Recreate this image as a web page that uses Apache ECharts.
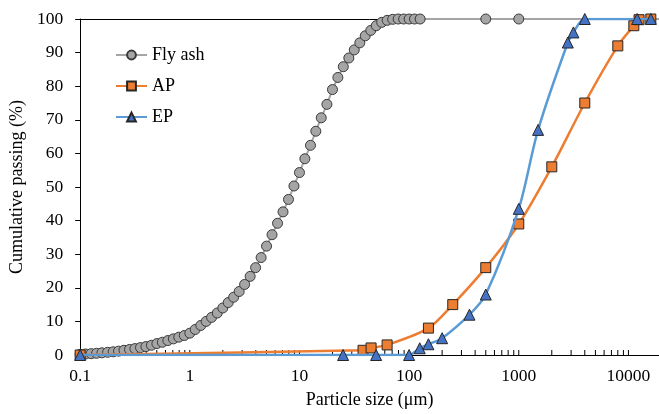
<!DOCTYPE html>
<html>
<head>
<meta charset="utf-8">
<script src="https://cdn.jsdelivr.net/npm/echarts@6/dist/echarts.min.js"></script>
<style>
  html, body { margin: 0; padding: 0; background: #fff; }
  #chart { width: 659px; height: 414px; }
</style>
</head>
<body>
<div id="chart"></div>
<script>
// Particle size distribution: fly ash (laser diffraction) and two sieved aggregates.
const FONT = '"Liberation Serif", "Times New Roman", serif';

const flyAshSize = [
  0.1, 0.112, 0.126, 0.141, 0.158, 0.178, 0.2, 0.224, 0.251, 0.282,
  0.316, 0.355, 0.398, 0.447, 0.501, 0.562, 0.631, 0.708, 0.794, 0.891,
  1, 1.12, 1.26, 1.41, 1.58, 1.78, 2, 2.24, 2.51, 2.82,
  3.16, 3.55, 3.98, 4.47, 5.01, 5.62, 6.31, 7.08, 7.94, 8.91,
  10, 11.2, 12.6, 14.1, 15.8, 17.8, 20, 22.4, 25.1, 28.2,
  31.6, 35.5, 39.8, 44.7, 50.1, 56.2, 63.1, 70.8, 79.4, 89.1,
  100, 112, 126, 500, 1000, 20000
];
const flyAshPassing = [
  0.2, 0.3, 0.4, 0.5, 0.65, 0.8, 0.95, 1.15, 1.4, 1.65,
  1.9, 2.2, 2.5, 2.9, 3.4, 3.8, 4.3, 4.8, 5.3, 5.8,
  6.5, 7.6, 8.8, 10.0, 11.2, 12.5, 14.0, 15.6, 17.2, 18.9,
  21.0, 23.4, 26.0, 29.0, 32.4, 35.8, 39.2, 42.6, 46.3, 50.3,
  54.3, 58.4, 62.4, 66.6, 70.6, 74.6, 79.0, 82.6, 85.8, 88.4,
  90.8, 92.9, 95.0, 96.6, 98.0, 99.0, 99.6, 99.9, 100, 100,
  100, 100, 100, 100, 100, 100
];

const apSize = [0.1, 38, 45, 63, 150, 250, 500, 1000, 2000, 4000, 8000, 11200, 12500, 16000];
const apPassing = [0, 1.4, 2.1, 3.0, 8.0, 15.0, 26.0, 39.0, 56.0, 75.0, 92.0, 98.0, 99.8, 100];

const epSize = [0.1, 25, 50, 100, 125, 150, 200, 355, 500, 1000, 1500, 2800, 3150, 4000, 12000, 16000];
const epPassing = [0, 0, 0, 0, 2.0, 3.2, 5.0, 12.0, 18.0, 43.5, 67.0, 93.0, 96.0, 100, 100, 100];

const xTickLabels = ['0.1', '1', '10', '100', '1000', '10000'];
const yTickLabels = ['0', '10', '20', '30', '40', '50', '60', '70', '80', '90', '100'];

// Inside tick marks at 2..10 times each decade of the log axis
const logTicks = [];
for (let e = -1; e <= 3; e++) {
  for (let k = 2; k <= 10; k++) logTicks.push(+(k * Math.pow(10, e)).toPrecision(3));
}

const pairs = (xs, ys) => xs.map((x, i) => [x, ys[i]]);
const flyAshData = pairs(flyAshSize, flyAshPassing);
flyAshData[flyAshData.length - 1] = { value: flyAshData[flyAshData.length - 1], symbol: 'none' };

const chart = echarts.init(document.getElementById('chart'), null, { renderer: 'canvas' });

const axisText = { color: '#000', fontFamily: FONT, fontSize: 17.5 };

chart.setOption({
  backgroundColor: '#fff',
  animation: false,
  grid: { left: 72, right: 0, top: 19, bottom: 57 },
  legend: {
    data: ['Fly ash', 'AP', 'EP'],
    orient: 'vertical',
    left: 110,
    top: 41,
    itemWidth: 31,
    itemHeight: 11,
    itemGap: 13,
    textStyle: { color: '#000', fontFamily: FONT, fontSize: 18 }
  },
  xAxis: [{
    type: 'log',
    min: 0.1,
    max: 19000,
    logBase: 10,
    name: 'Particle size (\u03bcm)',
    nameLocation: 'middle',
    nameGap: 36,
    nameTextStyle: { color: '#000', fontFamily: FONT, fontSize: 18 },
    axisLine: { lineStyle: { color: '#000', width: 1 } },
    axisTick: { show: false },
    splitLine: { show: false },
    axisLabel: {
      ...axisText,
      margin: 12,
      showMaxLabel: false,
      formatter: (v) => {
        const s = String(+(+v).toPrecision(6));
        return xTickLabels.includes(s) ? s : '';
      }
    }
  }, {
    type: 'log',
    min: 0.1,
    max: 19000,
    position: 'top',
    axisLine: { lineStyle: { color: '#000', width: 1 } },
    axisTick: { show: false },
    axisLabel: { show: false },
    splitLine: { show: false }
  }],
  yAxis: {
    type: 'value',
    min: 0,
    max: 100,
    interval: 10,
    name: 'Cumulative passing (%)',
    nameLocation: 'middle',
    nameGap: 42,
    nameTextStyle: { color: '#000', fontFamily: FONT, fontSize: 18 },
    axisLine: { show: true, lineStyle: { color: '#000', width: 1 } },
    axisTick: { show: true, inside: false, length: 5, lineStyle: { color: '#000' } },
    splitLine: { show: false },
    axisLabel: {
      ...axisText,
      margin: 17,
      formatter: (v) => yTickLabels[Math.round(v / 10)]
    }
  },
  series: [
    {
      type: 'custom',
      name: 'ticks',
      silent: true,
      z: 1,
      data: logTicks.map((v) => [v, 0]),
      encode: { x: 0, y: 1 },
      renderItem: (params, api) => {
        const p = api.coord([api.value(0), 0]);
        return {
          type: 'line',
          shape: { x1: p[0], y1: p[1], x2: p[0], y2: p[1] - 5 },
          style: { stroke: '#000', lineWidth: 1 }
        };
      }
    },
    {
      name: 'Fly ash',
      type: 'line',
      data: flyAshData,
      symbol: 'circle',
      symbolSize: 10,
      showAllSymbol: true,
      lineStyle: { color: '#A5A5A5', width: 2 },
      itemStyle: { color: '#A5A5A5', borderColor: '#3a3a3a', borderWidth: 1 },
      z: 3
    },
    {
      name: 'AP',
      type: 'line',
      data: pairs(apSize, apPassing),
      smooth: 0.3,
      symbol: 'rect',
      symbolSize: 10,
      showAllSymbol: true,
      lineStyle: { color: '#ED7D31', width: 2.5 },
      itemStyle: { color: '#ED7D31', borderColor: '#262626', borderWidth: 1 },
      z: 4
    },
    {
      name: 'EP',
      type: 'line',
      data: pairs(epSize, epPassing),
      smooth: 0.3,
      symbol: 'triangle',
      symbolSize: 11,
      showAllSymbol: true,
      lineStyle: { color: '#5B9BD5', width: 2.5 },
      itemStyle: { color: '#4472C4', borderColor: '#262626', borderWidth: 1 },
      z: 5
    }
  ]
});
</script>
</body>
</html>
